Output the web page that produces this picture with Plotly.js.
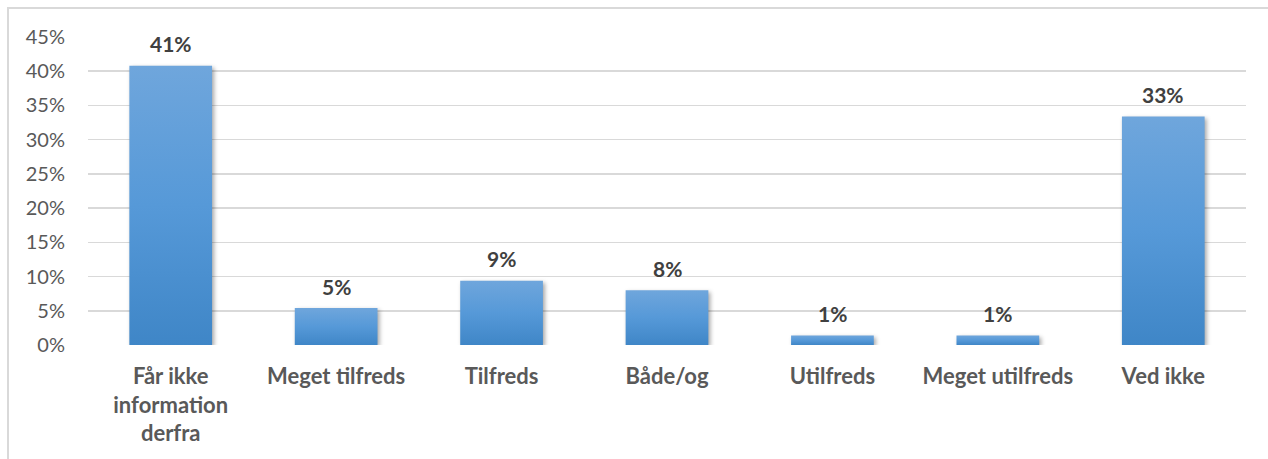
<!DOCTYPE html>
<html>
<head>
<meta charset="utf-8">
<script src="https://cdn.plot.ly/plotly-3.0.1.min.js"></script>
<style>
  html, body { margin: 0; padding: 0; background: #ffffff; }
  #wrap { position: relative; width: 1268px; height: 459px; overflow: hidden; }
  #frame { position: absolute; left: 7px; top: 7px; width: 1270px; height: 460px;
           border-top: 2px solid #d9d9d9; border-left: 2px solid #d9d9d9; box-sizing: border-box; }
  #chart { position: absolute; left: 0; top: 0; width: 1268px; height: 459px; }
  #chart .bars .point path { fill: url(#barGrad) !important;
      filter: drop-shadow(2px 2px 2px rgba(0,0,0,0.35)); }
</style>
</head>
<body>
<svg width="0" height="0" style="position:absolute">
  <defs>
    <linearGradient id="barGrad" x1="0" y1="0" x2="0" y2="1">
      <stop offset="0" stop-color="#6fa6dc"/>
      <stop offset="0.5" stop-color="#5699d8"/>
      <stop offset="1" stop-color="#3f86c7"/>
    </linearGradient>
  </defs>
</svg>
<div id="wrap">
  <div id="frame"></div>
  <div id="chart"></div>
</div>
<script>
const categories = [
  "Får ikke<br>information<br>derfra",
  "Meget tilfreds",
  "Tilfreds",
  "Både/og",
  "Utilfreds",
  "Meget utilfreds",
  "Ved ikke"
];
const values = [40.8, 5.4, 9.4, 8.0, 1.4, 1.4, 33.4];
const yTickValues = [0, 5, 10, 15, 20, 25, 30, 35, 40, 45];

const FONT = "Lato, 'Open Sans', sans-serif";

const trace = {
  type: "bar",
  x: categories,
  y: values,
  marker: { color: "#5b9bd5" },
  hoverinfo: "skip"
};

const annotations = categories.map((c, i) => ({
  x: c,
  y: values[i],
  xref: "x",
  yref: "y",
  text: "<b>" + Math.round(values[i]) + "%</b>",
  showarrow: false,
  yanchor: "middle",
  yshift: 22,
  font: { family: FONT, size: 21, color: "#404040" }
}));

const layout = {
  width: 1268,
  height: 459,
  margin: { l: 88, r: 22, t: 37, b: 114 },
  paper_bgcolor: "rgba(0,0,0,0)",
  plot_bgcolor: "rgba(0,0,0,0)",
  bargap: 0.5,
  showlegend: false,
  xaxis: {
    type: "category",
    showgrid: false,
    zeroline: false,
    showline: false,
    ticks: "",
    tickfont: { family: FONT, size: 22, color: "#595959", weight: "bold" },
    ticklabelstandoff: 16
  },
  yaxis: {
    range: [0, 45],
    tickvals: yTickValues,
    ticktext: yTickValues.map(v => v + "%"),
    showgrid: true,
    gridcolor: "#d9d9d9",
    gridwidth: 1.5,
    zeroline: false,
    showline: false,
    ticks: "",
    tickfont: { family: FONT, size: 20, color: "#595959" },
    ticklabelstandoff: 22
  },
  annotations: annotations
};

Plotly.newPlot("chart", [trace], layout, { displayModeBar: false, staticPlot: true });
</script>
</body>
</html>
